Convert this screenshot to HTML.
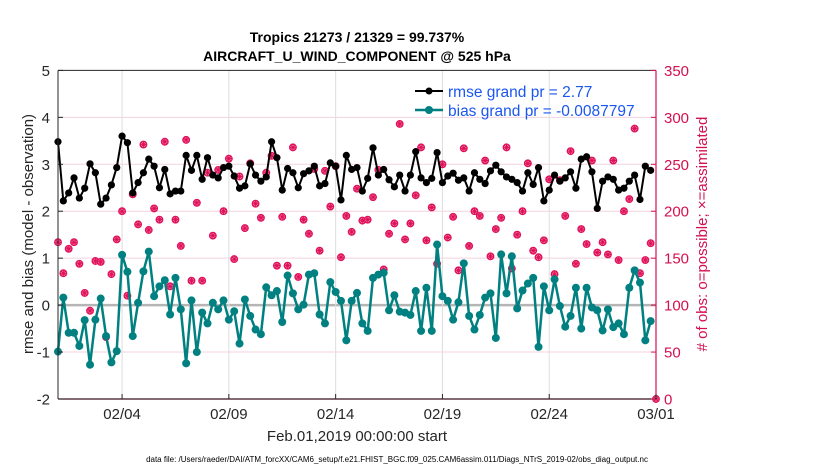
<!DOCTYPE html>
<html><head><meta charset="utf-8"><style>
html,body{margin:0;padding:0;background:#fff;}
svg{display:block;font-family:"Liberation Sans",Arial,sans-serif;}
</style></head><body>
<svg id="chart" width="830" height="470" viewBox="0 0 830 470">
<rect x="0" y="0" width="830" height="470" fill="#fff"/>
<g id="grid"></g>
<g id="marks"></g>
<g id="axes"></g>
<text x="357" y="42" text-anchor="middle" font-size="14" font-weight="bold" fill="#000">Tropics 21273 / 21329 = 99.737%</text>
<text x="357" y="61" text-anchor="middle" font-size="14" font-weight="bold" fill="#000">AIRCRAFT_U_WIND_COMPONENT @ 525 hPa</text>
<text transform="translate(33,234) rotate(-90)" text-anchor="middle" font-size="15" fill="#262626">rmse and bias (model - observation)</text>
<text transform="translate(707,234) rotate(-90)" text-anchor="middle" font-size="15" fill="#d4104f"># of obs: o=possible; ×=assimilated</text>
<text x="357" y="441" text-anchor="middle" font-size="15" fill="#262626">Feb.01,2019 00:00:00 start</text>
<text x="397" y="462" text-anchor="middle" font-size="8" fill="#000">data file: /Users/raeder/DAI/ATM_forcXX/CAM6_setup/f.e21.FHIST_BGC.f09_025.CAM6assim.011/Diags_NTrS_2019-02/obs_diag_output.nc</text>
<g>
<line x1="415" y1="91" x2="443" y2="91" stroke="#000" stroke-width="2"/>
<circle cx="429" cy="91" r="3.5" fill="#000"/>
<text x="448" y="97" font-size="15.5" fill="#1a56f0">rmse grand pr = 2.77</text>
<line x1="415" y1="110" x2="443" y2="110" stroke="#008080" stroke-width="2.5"/>
<circle cx="429" cy="110" r="4" fill="#008080"/>
<text x="448" y="116" font-size="15.5" fill="#1a56f0">bias grand pr = -0.0087797</text>
</g>
</svg>
<script>
const rmse = [3.48,2.22,2.39,2.71,2.28,2.49,3.01,2.82,2.15,2.28,2.56,2.93,3.6,3.46,2.39,2.61,2.82,3.11,2.96,2.5,
2.89,2.37,2.43,2.43,3.19,2.87,3.19,2.68,3.14,2.77,2.71,2.93,2.96,2.75,2.49,2.54,3.01,2.77,
2.64,2.73,3.48,3.14,2.45,2.91,2.82,2.5,2.8,2.86,2.96,2.54,2.59,3.03,2.96,2.24,3.19,2.89,2.93,
2.43,2.7,3.35,2.77,2.89,2.67,2.52,2.77,2.43,2.77,3.27,2.71,2.61,2.7,3.25,2.61,2.75,2.81,2.66,
2.71,2.43,2.82,2.68,2.59,2.86,2.98,2.84,2.73,2.68,2.61,2.43,2.82,2.57,2.93,2.22,2.45,2.77,
2.64,2.71,2.84,2.49,3.11,3.16,2.84,2.06,2.64,2.73,2.68,2.45,2.49,2.64,2.77,2.25,2.96,2.87];
const bias = [-0.99,0.16,-0.59,-0.59,-0.87,-0.32,-1.27,-0.31,0.14,-0.66,-1.22,-0.98,1.07,0.71,-0.66,0.05,0.72,1.14,0.19,0.4,
0.53,-0.2,0.58,-0.09,-1.24,0.1,-1.0,-0.16,-0.39,0.05,-0.09,0.1,-0.31,-0.13,-0.82,0.12,-0.23,-0.52,
-0.62,0.38,0.21,0.3,-0.36,0.63,0.25,-0.09,0.01,0.65,0.68,-0.2,-0.39,0.49,0.28,0.09,-0.75,0.09,0.26,
-0.39,-0.55,0.58,0.65,0.69,-0.11,0.21,-0.14,-0.16,-0.21,0.3,-0.55,0.37,-0.55,1.29,0.19,0.09,-0.31,0.06,
0.89,-0.23,-0.52,-0.21,0.16,0.25,-0.7,1.08,0.25,1.04,-0.07,0.31,0.46,0.58,-0.89,0.4,-0.11,0.55,
-0.02,-0.46,-0.23,0.37,-0.5,0.37,-0.05,-0.11,-0.54,-0.09,-0.47,-0.39,-0.62,0.37,0.74,0.48,-0.75,-0.34];
const obsCount = [167,134,160,167,144,113,94,147,146,66,133,170,200,110,218,186,271,180,203,191,
274,120,191,163,276,126,209,126,241,174,244,200,256,149,237,182,251,208,
193,241,259,142,194,142,268,130,191,176,245,158,243,205,248,151,195,178,224,
190,191,215,244,138,176,187,293,170,187,217,268,169,204,144,250,172,194,137,
267,163,200,195,254,152,181,193,268,139,175,200,251,158,151,169,234,133,
233,195,264,144,181,165,254,156,167,154,254,148,200,213,288,134,148,166,0];
const timeStepDays = 0.25;
const xTickDays = [3,8,13,18,23,28];
const xTickLabels = ["02/04","02/09","02/14","02/19","02/24","03/01"];
const yTicks = [-2,-1,0,1,2,3,4,5];
const y2Ticks = [0,50,100,150,200,250,300,350];

const NS="http://www.w3.org/2000/svg";
const L=58,R=656,T=70.4,B=399;
function xS(d){return L+(d-0)/(28-0)*(R-L);}
function yS(v){return B-(v-(-2))/(5-(-2))*(B-T);}
function y2S(v){return B-(v-0)/(350-0)*(B-T);}
function mk(tag,attrs,parent){const e=document.createElementNS(NS,tag);for(const k in attrs)e.setAttribute(k,attrs[k]);parent.appendChild(e);return e;}
const grid=document.getElementById('grid'),marks=document.getElementById('marks'),axes=document.getElementById('axes');

yTicks.forEach(v=>{if(v>-2&&v<5){const l=mk('line',{x1:L,x2:R,y1:yS(v),y2:yS(v),stroke:v===0?'#b5b5b5':'#f3d3df','stroke-width':v===0?2.5:1},grid);

}});
xTickDays.forEach(d=>{if(d<28){const l=mk('line',{x1:xS(d),x2:xS(d),y1:T,y2:B,stroke:'#dedede','stroke-width':1},grid);

}});

obsCount.forEach((c,i)=>{const cx=xS(i*timeStepDays),cy=y2S(c);
const g=mk('g',{},marks);


mk('circle',{cx:cx,cy:cy,r:3.3,fill:'#f5a0bd',stroke:'#e0105a','stroke-width':1.3},g);
const s=3.3;
mk('path',{d:`M${cx-s},${cy}H${cx+s}M${cx},${cy-s}V${cy+s}M${cx-s*0.7},${cy-s*0.7}L${cx+s*0.7},${cy+s*0.7}M${cx-s*0.7},${cy+s*0.7}L${cx+s*0.7},${cy-s*0.7}`,stroke:'#e0105a','stroke-width':1},g);
});

function series(vals,color,w,r,name){
const pts=vals.map((v,i)=>xS(i*timeStepDays).toFixed(1)+','+yS(v).toFixed(1)).join(' ');
const pl=mk('polyline',{points:pts,fill:'none',stroke:color,'stroke-width':w,'stroke-linejoin':'round'},marks);


vals.forEach((v,i)=>{const c=mk('circle',{cx:xS(i*timeStepDays),cy:yS(v),r:r,fill:color},marks);

});
}
series(rmse,'#000',2,3.6,'rmse');
series(bias,'#008080',2.5,4,'bias');

const la=mk('line',{x1:L,x2:L,y1:T,y2:B,stroke:'#262626','stroke-width':1},axes);


const ta=mk('line',{x1:L,x2:R,y1:T,y2:T,stroke:'#262626','stroke-width':1},axes);


const ba=mk('line',{x1:L,x2:R,y1:B,y2:B,stroke:'#3a1020','stroke-width':1.2},axes);


const ra=mk('line',{x1:R,x2:R,y1:T,y2:B,stroke:'#d4104f','stroke-width':1.2},axes);


yTicks.forEach(v=>{const t=mk('text',{x:L-8,y:yS(v)+5.5,'text-anchor':'end','font-size':15,fill:'#262626'},axes);t.textContent=v;


mk('line',{x1:L,x2:L+5,y1:yS(v),y2:yS(v),stroke:'#262626'},axes);});
y2Ticks.forEach(v=>{const t=mk('text',{x:R+8,y:y2S(v)+5.5,'font-size':15,fill:'#d4104f'},axes);t.textContent=v;


mk('line',{x1:R-5,x2:R,y1:y2S(v),y2:y2S(v),stroke:'#d4104f'},axes);});
xTickDays.forEach((d,i)=>{const t=mk('text',{x:xS(d),y:B+20,'text-anchor':'middle','font-size':15,fill:'#262626'},axes);t.textContent=xTickLabels[i];


mk('line',{x1:xS(d),x2:xS(d),y1:B-5,y2:B,stroke:'#262626'},axes);});
</script>
</body></html>
